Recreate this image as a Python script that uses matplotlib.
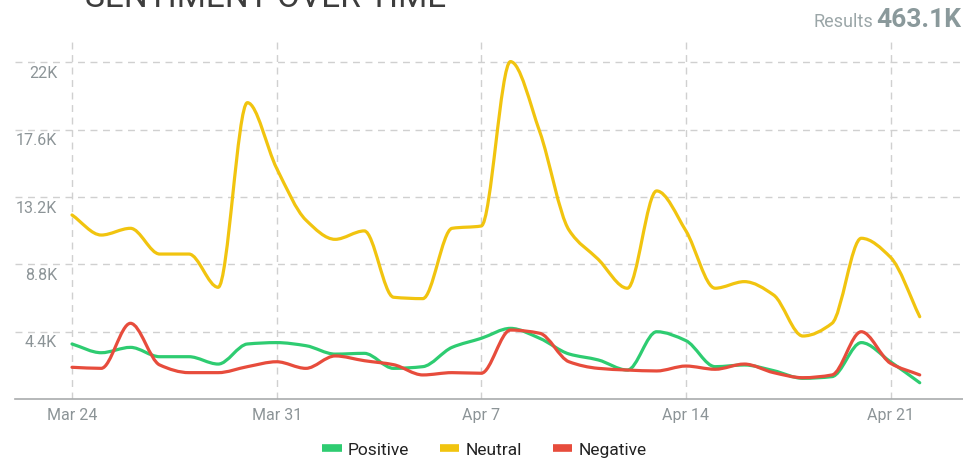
import numpy as np
import matplotlib
matplotlib.use("Agg")
import matplotlib.pyplot as plt
import matplotlib.dates as mdates
from matplotlib.path import Path
from matplotlib.patches import PathPatch
from matplotlib.lines import Line2D
import matplotlib.transforms as mtransforms
import pandas as pd

plt.rcParams['font.family'] = ['Roboto', 'DejaVu Sans']

dates = pd.date_range("2019-03-24", "2019-04-22", freq="D")
positive = [3610, 3040, 3390, 2780, 2780, 2300, 3610, 3700, 3500, 2950,
            3000, 2020, 2130, 3390, 3980, 4630, 3980, 2960, 2570, 1910,
            4410, 3830, 2130, 2240, 1870, 1370, 1480, 3700, 2450, 1080]
neutral = [12030, 10720, 11160, 9480, 9480, 7310, 19360, 15080, 11700, 10440,
           10990, 6660, 6570, 11160, 11310, 22040, 17470, 11050, 9140, 7250,
           13600, 11000, 7250, 7680, 6810, 4130, 4960, 10510, 9270, 5390]
negative = [2090, 2020, 4960, 2240, 1740, 1740, 2130, 2450, 2020, 2830,
            2520, 2260, 1590, 1740, 1700, 4520, 4310, 2450, 2020, 1910,
            1850, 2170, 1960, 2300, 1740, 1410, 1590, 4410, 2350, 1590]
series_names = ["Positive", "Neutral", "Negative"]
series_colors = ["#2ecc71", "#f1c40f", "#e74c3c"]
y_ticks = [4400, 8800, 13200, 17600, 22000]
y_labels = ["4.4K", "8.8K", "13.2K", "17.6K", "22K"]
x_ticks = ["2019-03-24", "2019-03-31", "2019-04-07", "2019-04-14", "2019-04-21"]
x_labels = ["Mar 24", "Mar 31", "Apr 7", "Apr 14", "Apr 21"]
title = "SENTIMENT OVER TIME"
results_label = "Results"
results_value = "463.1K"


def monotone_path(x, y):
    x = np.asarray(x, float)
    y = np.asarray(y, float)
    n = len(x)
    h = np.diff(x)
    d = np.diff(y) / h
    m = np.zeros(n)
    for k in range(1, n - 1):
        if d[k - 1] * d[k] <= 0:
            m[k] = 0.0
        else:
            w1 = 2 * h[k] + h[k - 1]
            w2 = h[k] + 2 * h[k - 1]
            m[k] = (w1 + w2) / (w1 / d[k - 1] + w2 / d[k])
    m[0] = d[0]
    m[-1] = d[-1]
    verts = [(x[0], y[0])]
    codes = [Path.MOVETO]
    for k in range(n - 1):
        verts.append((x[k] + h[k] / 3, y[k] + m[k] * h[k] / 3))
        verts.append((x[k + 1] - h[k] / 3, y[k + 1] - m[k + 1] * h[k] / 3))
        verts.append((x[k + 1], y[k + 1]))
        codes += [Path.CURVE4] * 3
    return Path(verts, codes)


fig = plt.figure(figsize=(9.63, 4.61), dpi=100)
ax = fig.add_axes([15 / 963, 1 - 399.3 / 461, 948 / 963, (399.3 - 40) / 461])

xnum = mdates.date2num(dates)
for vals, col in zip([positive, neutral, negative], series_colors):
    patch = PathPatch(monotone_path(xnum, vals), facecolor="none", edgecolor=col,
                      lw=2.3, capstyle="round", joinstyle="round", zorder=3)
    ax.add_patch(patch)

ax.set_xlim(xnum[0] - 1.95, xnum[0] + 30.48)
ax.set_ylim(0, 23450)

xt = mdates.date2num(pd.to_datetime(x_ticks))
ax.set_xticks(xt)
ax.set_xticklabels(x_labels)
ax.set_yticks(y_ticks)
ax.set_yticklabels([])
ax.tick_params(axis="y", length=0)
ax.tick_params(axis="x", length=0, pad=6, labelsize=11.5, labelcolor="#8c9497")
ax.grid(True, color="#d0d0d0", linestyle=(0, (5, 4)), linewidth=1)
for s in ["left", "top", "right"]:
    ax.spines[s].set_visible(False)
ax.spines["bottom"].set_color("#a9abad")
ax.spines["bottom"].set_linewidth(1.2)

trans = mtransforms.blended_transform_factory(ax.transAxes, ax.transData) + \
    mtransforms.ScaledTranslation(0, -11 / 100, fig.dpi_scale_trans)
for v, lab in zip(y_ticks, y_labels):
    ax.text((57 - 15) / 948, v, lab, transform=trans, ha="right", va="center",
            fontsize=11.5, color="#8c9497")

handles = [Line2D([], [], color=c, lw=5.5, solid_capstyle="butt") for c in series_colors]
fig.legend(handles, series_names, loc="center", bbox_to_anchor=(0.503, 1 - 450 / 461),
           ncol=3, frameon=False, fontsize=12.5, handlelength=1.1, handletextpad=0.35,
           columnspacing=1.8, labelcolor="#222222")

fig.text(85 / 963, 1 - 7 / 461, title, ha="left", va="baseline", fontsize=24,
         color="#3d3d3d")
fig.text(0.998, 1 - 27 / 461, results_value, ha="right", va="baseline", fontsize=19,
         fontweight="bold", color="#8a999b")
fig.text(873 / 963, 1 - 27 / 461, results_label, ha="right", va="baseline", fontsize=13,
         color="#9ba6a8")

fig.savefig("out.png", dpi=100)
